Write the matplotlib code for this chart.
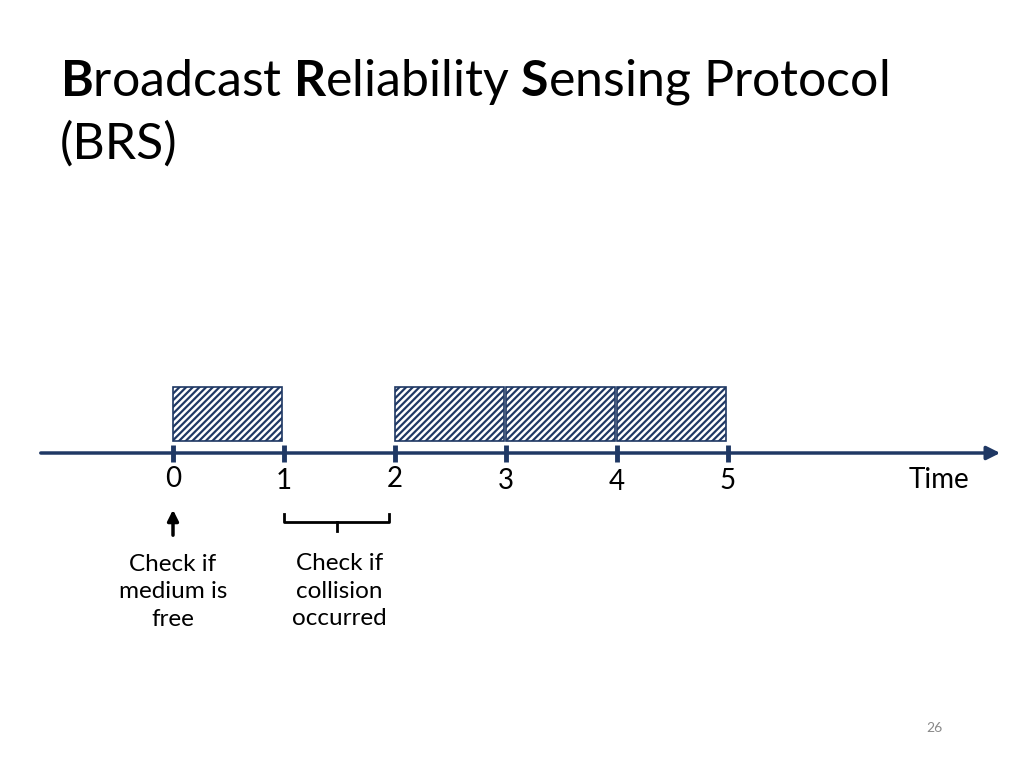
import matplotlib
matplotlib.use("Agg")
import matplotlib.pyplot as plt
from matplotlib.patches import Rectangle

slot_starts = [0, 2, 3, 4]
tick_values = [0, 1, 2, 3, 4, 5]
tick_labels = ["0", "1", "2", "3", "4", "5"]
tick_label_dy = [-2, 0, -2, 0, 1, 0]

NAVY = "#1f3864"
FONT = "Lato"
plt.rcParams["mathtext.fontset"] = "custom"
plt.rcParams["mathtext.rm"] = "Lato"
plt.rcParams["mathtext.bf"] = "Lato:bold"
fig = plt.figure(figsize=(10.24, 7.68), dpi=100)
ax = fig.add_axes([0, 0, 1, 1])
unit = 111.0
x0 = 173.0
ax.set_xlim(-x0 / unit, (1024 - x0) / unit)
ax.set_ylim(768, 0)
ax.axis("off")

# title
ax.text(-x0/unit + 60/unit, 82, r"$\mathbf{B}$roadcast $\mathbf{R}$eliability $\mathbf{S}$ensing Protocol",
        fontsize=36, family=FONT, va="center", ha="left")
ax.text(-x0/unit + 60/unit, 144, "(BRS)", fontsize=36, family=FONT, va="center", ha="left")

# boxes
plt.rcParams["hatch.color"] = NAVY
plt.rcParams["hatch.linewidth"] = 1.6
for s in slot_starts:
    ax.add_patch(Rectangle((s, 387), 0.98, 54, facecolor="white", edgecolor=NAVY,
                           hatch="/////", linewidth=1.2))

# axis line with arrow
ax.annotate("", xy=(1003/unit - x0/unit, 453), xytext=(38/unit - x0/unit, 453),
            arrowprops=dict(arrowstyle="-|>", color=NAVY, lw=2.5, mutation_scale=20))
for t, lab, dy in zip(tick_values, tick_labels, tick_label_dy):
    ax.plot([t, t], [445, 462], color=NAVY, lw=3.5, solid_capstyle="butt")
    ax.text(t, 481 + dy, lab, fontsize=20, family=FONT, ha="center", va="center")
ax.text((939 - x0)/unit, 480, "Time", fontsize=20, family=FONT, ha="center", va="center")

# arrow under 0
ax.annotate("", xy=(0, 507), xytext=(0, 538),
            arrowprops=dict(arrowstyle="-|>", color="black", lw=2.5, mutation_scale=16))
ax.text(0, 592, "Check if\nmedium is\nfree", fontsize=17.5, family=FONT, ha="center",
        va="center", linespacing=1.4)

# bracket 1-2
ax.plot([1.0, 1.0, 1.95, 1.95], [514, 522, 522, 514], color="black", lw=2)
ax.plot([1.475, 1.475], [522, 531], color="black", lw=2)
ax.text(1.5, 591, "Check if\ncollision\noccurred", fontsize=17.5, family=FONT, ha="center",
        va="center", linespacing=1.4)

ax.text((934 - x0)/unit, 728, "26", fontsize=10, family=FONT, color="#888888",
        ha="center", va="center")

fig.savefig("out.png", dpi=100)
